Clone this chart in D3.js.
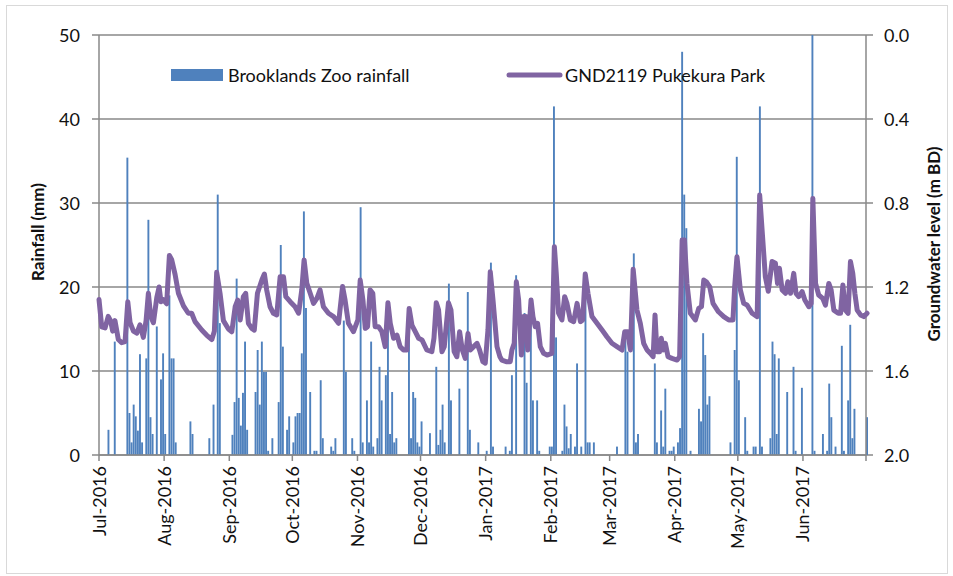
<!DOCTYPE html>
<html>
<head>
<meta charset="utf-8">
<script src="https://cdn.jsdelivr.net/npm/d3@7"></script>
<style>
	body { margin: 0; background: #fff; }
	text { font-family: Lato, "Open Sans", sans-serif; fill: #111; }
</style>
</head>
<body>
<svg width="953" height="576"></svg>
<script>
// daily rainfall, day offset from 1 Jul 2016 (only rain days listed)
var rainDay = [4,7,13,14,15,16,17,18,19,20,22,23,24,25,27,29,30,31,33,34,35,36,43,44,52,54,56,57,
	63,64,65,66,67,68,69,70,74,75,76,77,78,79,80,82,85,86,87,89,90,92,93,94,95,96,97,98,100,102,103,105,106,110,111,112,116,117,120,121,124,125,
	127,128,129,130,132,133,134,136,137,138,139,140,141,147,148,149,150,151,152,153,157,160,161,162,163,164,166,167,171,175,176,180,184,186,187,
	193,195,196,198,202,203,205,206,208,209,214,215,216,217,220,221,222,223,224,226,227,229,231,232,233,235,246,250,251,254,
	255,256,264,265,267,268,269,271,272,273,275,276,277,278,279,281,285,286,287,288,289,290,300,302,303,304,307,308,311,312,314,315,
	319,320,321,322,323,327,330,331,334,339,340,344,346,347,348,350,353,354,356,357,358,359,365]
var rainMm = [3.0,13.5,35.4,5.0,1.5,6.0,4.6,2.9,12.0,1.5,11.5,28.0,4.5,2.5,15.3,9.0,12.1,2.5,19.0,11.5,11.5,1.5,4.0,2.5,2.0,6.0,31.0,15.7,
	2.4,6.3,21.0,6.8,3.5,7.4,13.5,3.0,7.5,12.5,6.0,13.5,9.9,9.9,0.5,2.0,6.3,25.0,12.9,3.0,4.6,1.5,4.6,5.0,5.0,12.1,29.0,17.5,7.5,0.5,0.5,8.9,2.0,1.0,0.5,2.0,16.0,9.9,2.0,0.5,29.5,1.5,
	6.5,1.5,13.5,1.0,2.0,10.5,6.5,9.5,15.0,2.5,7.5,1.5,2.0,17.0,2.0,7.5,6.8,1.5,1.0,4.0,2.6,10.5,1.2,3.0,6.0,1.5,20.4,6.5,7.9,19.4,3.0,1.5,0.5,22.9,1.0,
	1.0,0.5,9.5,21.4,16.9,8.6,18.3,6.5,6.5,0.5,1.0,1.0,41.5,14.0,0.5,6.0,3.4,0.8,2.5,1.0,10.9,1.0,21.8,1.5,1.5,1.5,1.0,14.7,12.3,24.0,
	1.5,2.5,10.9,1.5,5.3,1.0,7.9,0.5,0.5,1.0,1.5,3.2,48.0,31.0,27.0,0.5,5.5,4.0,14.5,11.9,6.0,7.0,1.5,12.5,35.5,8.9,4.5,0.5,1.0,1.0,41.5,1.0,
	2.0,13.5,12.0,2.5,11.5,7.5,10.5,0.5,8.0,50.0,0.5,2.5,0.5,8.5,4.5,1.0,13.0,0.5,6.5,15.5,2.0,5.5,4.5]

// groundwater level (m below datum), day offset from 1 Jul 2016
var gwDay = [0,1.3,2.9,4.4,5.5,6.5,7.6,9.2,10.8,12.4,13.7,14.8,16.4,18,19.5,21.1,22.4,23.5,24.6,25.9,27.5,28.6,29.5,30.6,32.2,33.5,34.6,36.2,37.8,40.2,42.5,44.1,45.7,48.9,51.3,53.7,54.9,56,57.6,59.2,61.6,
	63.2,64.8,66,67.2,68.7,69.8,71.1,72.7,73.9,75.4,77.5,78.7,79.8,81.4,83,84.6,86.2,87.8,88.9,91,93.3,95,96.5,97.6,98.9,100.5,102.1,103.7,105.2,106.8,109.2,111.6,114,115.9,117.1,118.7,121.1,123.2,124.3,
	125.6,126.7,127.8,129,130.3,131.4,133,134.6,136.2,137.5,138.6,140.2,141.8,143.3,144.9,146.5,147.6,148.9,150.5,152.1,153.7,156,158.4,159.4,160.5,161.6,163.2,164.3,166.3,167.5,169,170.3,171.6,172.9,174.3,175.6,176.7,178.3,179.9,181.1,182.7,183.8,185.1,186.2,187.5,189.4,
	190.8,191.7,194.1,195.7,196.5,197.6,198.6,199.7,201,202.1,203.2,204,205.6,206.5,207.6,208.7,210,211.6,213.2,215.5,216.7,217.6,218.7,220.3,221.6,222.7,224.3,225.9,227.5,229.1,230.2,231.4,232.7,234.6,237,239.4,241.7,244.1,246.5,248.9,250.2,251.6,252.9,254.2,
	256,257.6,259.2,260.8,262.4,263.7,264.6,265.5,266.8,267.6,268.4,269.5,270.8,272.7,275.1,276.3,277.5,278.6,279.8,281.4,283.8,285.4,286.7,287.8,289,290.6,292.2,294.8,297.3,299.7,301.7,302.5,303.6,305.2,306.8,308.4,310.8,313.2,314.4,315.7,317.1,318.5,
	320.3,321.9,322.9,323.8,325.1,326.7,327.8,329.1,330.6,331.7,333,334.6,335.9,337.8,338.9,339.7,341,342.5,344.4,345.7,347.3,348.4,349.7,351.8,352.9,354,355.2,356.5,357.6,358.7,359.7,360.8,362.4,364,365.5]
var gwLevel = [1.26,1.39,1.395,1.34,1.36,1.41,1.36,1.45,1.465,1.46,1.27,1.37,1.41,1.42,1.38,1.44,1.36,1.23,1.34,1.37,1.25,1.2,1.27,1.26,1.28,1.05,1.07,1.14,1.23,1.29,1.325,1.325,1.365,1.405,1.43,1.45,1.41,1.13,1.23,1.36,1.4,
	1.413,1.294,1.262,1.357,1.246,1.23,1.373,1.397,1.405,1.23,1.167,1.138,1.214,1.294,1.325,1.333,1.151,1.151,1.246,1.27,1.294,1.325,1.214,1.071,1.183,1.23,1.278,1.254,1.214,1.294,1.325,1.341,1.373,1.198,1.262,1.373,1.413,1.357,1.167,
	1.262,1.397,1.389,1.214,1.23,1.389,1.389,1.413,1.484,1.275,1.373,1.444,1.429,1.484,1.5,1.5,1.302,1.381,1.413,1.444,1.452,1.5,1.508,1.444,1.275,1.31,1.508,1.484,1.275,1.31,1.508,1.532,1.413,1.5,1.54,1.421,1.5,1.484,1.468,1.5,1.556,1.563,1.405,1.127,1.262,1.484,
	1.532,1.548,1.556,1.556,1.5,1.468,1.175,1.262,1.524,1.341,1.341,1.5,1.262,1.341,1.389,1.373,1.484,1.516,1.524,1.516,1.008,1.135,1.325,1.357,1.246,1.278,1.357,1.365,1.278,1.365,1.357,1.138,1.23,1.341,1.373,1.405,1.437,1.468,1.484,1.5,1.413,1.413,1.5,1.115,
	1.31,1.373,1.468,1.5,1.516,1.532,1.333,1.508,1.508,1.444,1.5,1.468,1.532,1.54,1.548,1.532,0.976,0.976,1.183,1.325,1.357,1.302,1.294,1.167,1.175,1.198,1.278,1.318,1.341,1.357,1.357,1.198,1.056,1.214,1.278,1.286,1.325,1.341,0.762,0.95,1.151,1.22,
	1.079,1.087,1.183,1.111,1.214,1.23,1.175,1.23,1.135,1.23,1.246,1.222,1.262,1.294,1.278,0.778,1.183,1.238,1.254,1.286,1.183,1.214,1.31,1.325,1.325,1.19,1.31,1.325,1.079,1.135,1.23,1.31,1.333,1.341,1.325]

var rainTicks = [0, 10, 20, 30, 40, 50]
var gwTicks = [0, 0.4, 0.8, 1.2, 1.6, 2.0]
var seriesNames = ["Brooklands Zoo rainfall", "GND2119 Pukekura Park"]

var svg = d3.select("svg")
var plotLeft = 99, plotRight = 866, plotTop = 35, plotBottom = 455
var start = Date.UTC(2016, 6, 1), end = Date.UTC(2017, 6, 1)
function dayDate(d) {
	return new Date(start + d * 864e5)
}

var x = d3.scaleUtc().domain([start, end]).range([plotLeft, plotRight])
var yRain = d3.scaleLinear().domain([0, 50]).range([plotBottom, plotTop])
var yGw = d3.scaleLinear().domain([0, 2]).range([plotTop, plotBottom])

// outer chart border
svg.append("rect")
	.attr("x", 6.5).attr("y", 5.5).attr("width", 941).attr("height", 568)
	.attr("fill", "none").attr("stroke", "#d9d9d9")

// gridlines, running out into the ticks on both sides
svg.append("g")
	.selectAll("line")
	.data(rainTicks)
	.join("line")
	.attr("x1", plotLeft - 7).attr("x2", plotRight + 7)
	.attr("y1", d => yRain(d)).attr("y2", d => yRain(d))
	.attr("stroke", "#888").attr("stroke-width", 1.5)

// bars
var bw = 1.9
svg.append("g")
	.selectAll("rect")
	.data(rainDay.map((d, i) => ({ day: d, mm: rainMm[i] })))
	.join("rect")
	.attr("x", d => x(dayDate(d.day + 0.5)) - bw / 2)
	.attr("width", bw)
	.attr("y", d => yRain(d.mm))
	.attr("height", d => plotBottom - yRain(d.mm))
	.attr("fill", "#4f81bd")

// axis lines
svg.append("line").attr("x1", plotLeft).attr("x2", plotLeft).attr("y1", plotTop).attr("y2", plotBottom)
	.attr("stroke", "#888").attr("stroke-width", 1.5)
svg.append("line").attr("x1", plotRight).attr("x2", plotRight).attr("y1", plotTop).attr("y2", plotBottom)
	.attr("stroke", "#888").attr("stroke-width", 1.5)

// groundwater line
var gwData = gwDay.map((d, i) => ({ day: d, level: gwLevel[i] }))
svg.append("path")
	.datum(gwData)
	.attr("fill", "none")
	.attr("stroke", "#8064a2")
	.attr("stroke-width", 5)
	.attr("stroke-linejoin", "round")
	.attr("stroke-linecap", "round")
	.attr("d", d3.line().x(d => x(dayDate(d.day))).y(d => yGw(d.level)))

// bottom axis
var months = d3.utcMonth.range(new Date(start), new Date(end + 1))
svg.append("line").attr("x1", plotLeft).attr("x2", plotRight).attr("y1", plotBottom).attr("y2", plotBottom)
	.attr("stroke", "#888").attr("stroke-width", 1.5)
svg.append("g")
	.selectAll("line")
	.data(months)
	.join("line")
	.attr("x1", d => x(d)).attr("x2", d => x(d))
	.attr("y1", plotBottom).attr("y2", plotBottom + 6)
	.attr("stroke", "#888").attr("stroke-width", 1.5)
var fmt = d3.utcFormat("%b-%Y")
svg.append("g")
	.selectAll("text")
	.data(months.slice(0, 12))
	.join("text")
	.attr("transform", d => `translate(${x(d) + 6.5},466) rotate(-90)`)
	.attr("text-anchor", "end")
	.attr("font-size", 18)
	.text(d => fmt(d))

// left tick labels
svg.append("g")
	.selectAll("text")
	.data(rainTicks)
	.join("text")
	.attr("x", 80).attr("y", d => yRain(d) + 6.5)
	.attr("text-anchor", "end")
	.attr("font-size", 18)
	.text(d => d)

// right tick labels
svg.append("g")
	.selectAll("text")
	.data(gwTicks)
	.join("text")
	.attr("x", 884).attr("y", d => yGw(d) + 6.5)
	.attr("font-size", 18)
	.text(d => d3.format(".1f")(d))

// axis titles
svg.append("text")
	.attr("transform", "translate(44,232) rotate(-90)")
	.attr("text-anchor", "middle")
	.attr("font-size", 17).attr("font-weight", "bold")
	.text("Rainfall (mm)")
svg.append("text")
	.attr("transform", "translate(940,244) rotate(-90)")
	.attr("text-anchor", "middle")
	.attr("font-size", 17).attr("font-weight", "bold")
	.text("Groundwater level (m BD)")

// legend
var legY = 75
svg.append("rect").attr("x", 171).attr("y", legY - 6).attr("width", 52).attr("height", 12).attr("fill", "#4f81bd")
svg.append("text").attr("x", 228).attr("y", legY + 6.5).attr("font-size", 18).text(seriesNames[0])
svg.append("line").attr("x1", 509).attr("x2", 560).attr("y1", legY).attr("y2", legY)
	.attr("stroke", "#8064a2").attr("stroke-width", 5).attr("stroke-linecap", "round")
svg.append("text").attr("x", 565).attr("y", legY + 6.5).attr("font-size", 18).text(seriesNames[1])
</script>
</body>
</html>
